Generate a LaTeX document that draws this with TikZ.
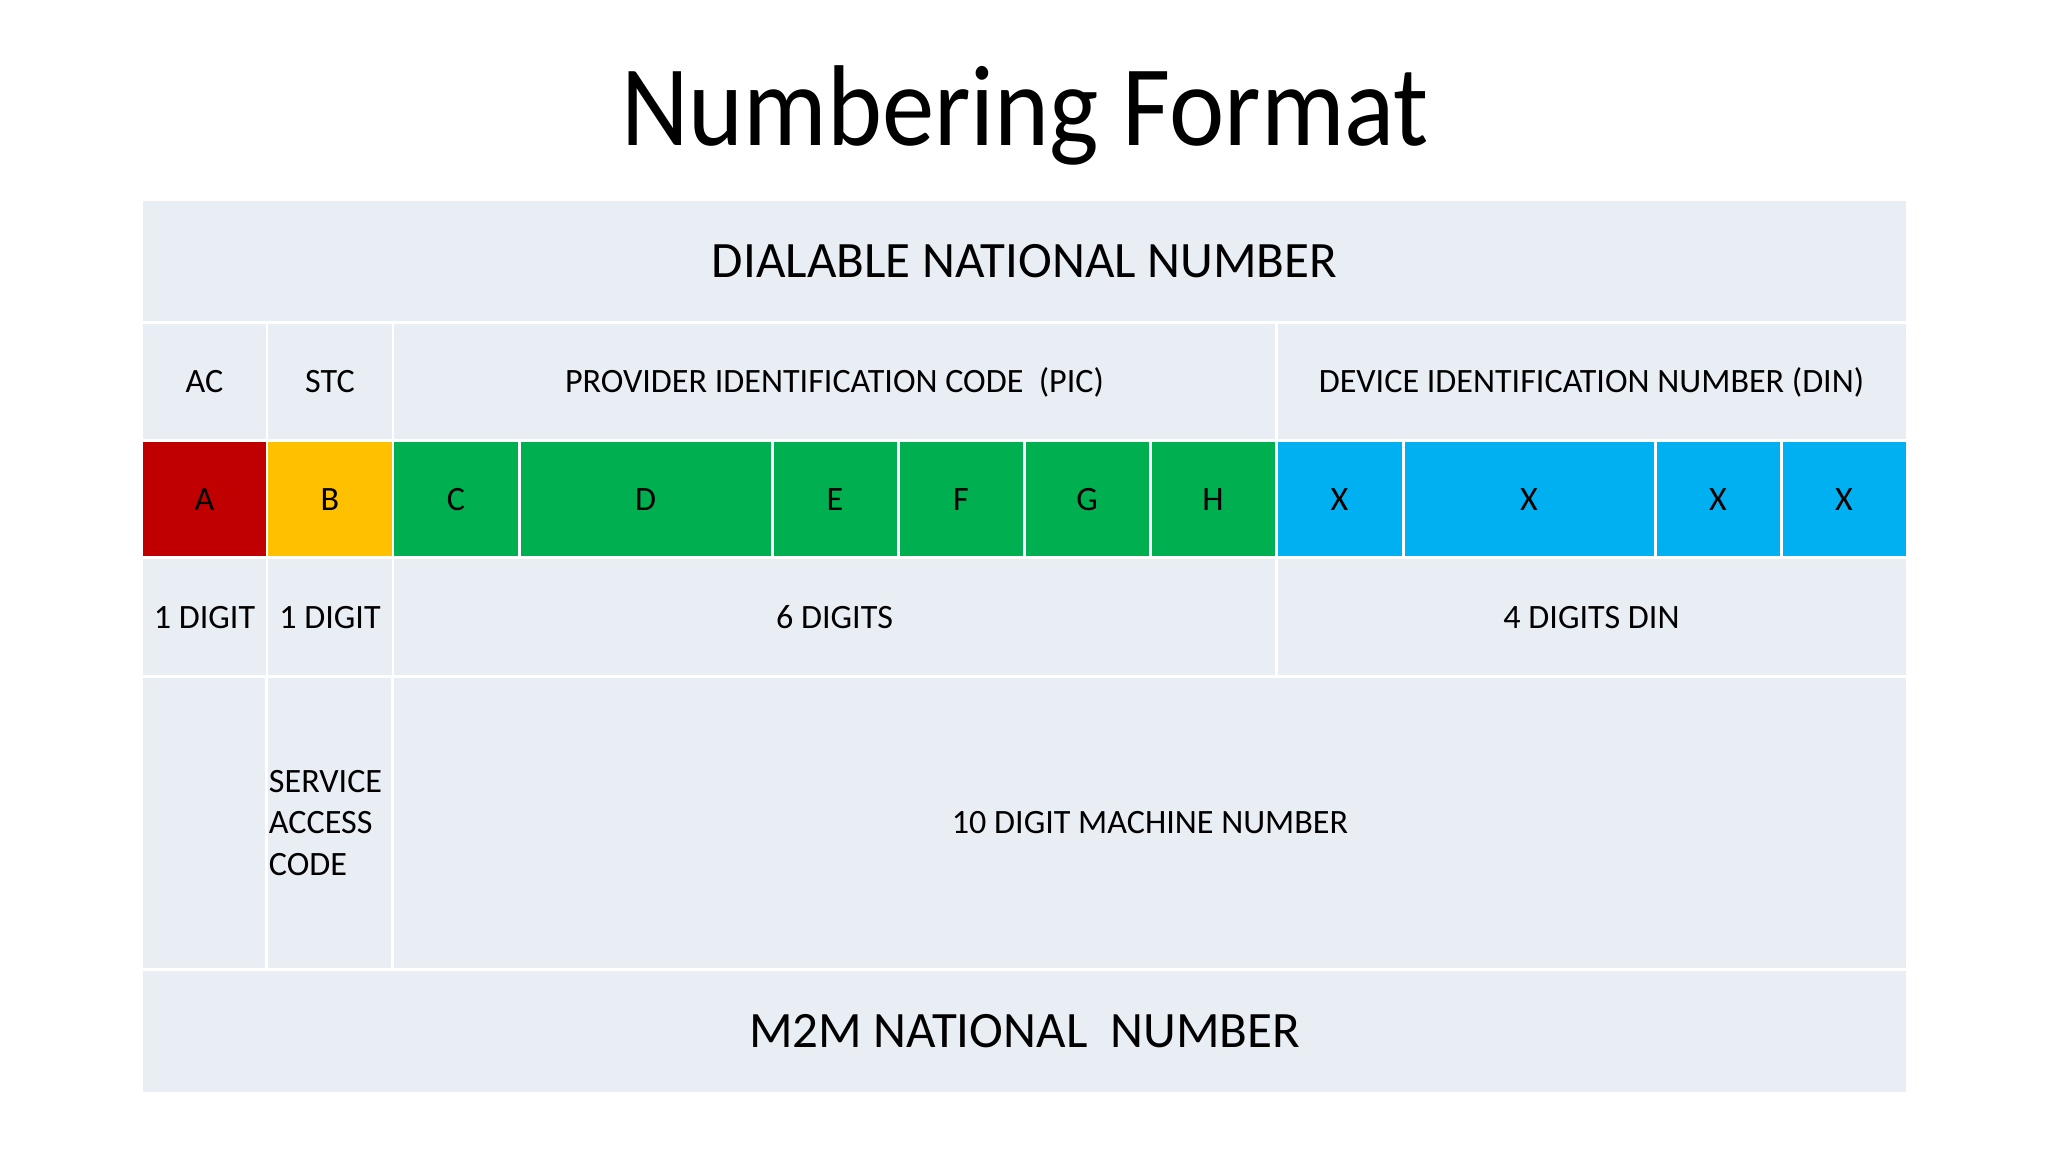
\documentclass[tikz,border=0pt]{standalone}
\usepackage{fontspec}
\setmainfont{Carlito}
\newfontfamily\titlefont[FakeStretch=0.91]{Carlito}
\usepackage{xcolor}

\definecolor{tblbg}{HTML}{E9EDF4}
\definecolor{acred}{HTML}{C00000}
\definecolor{stcyellow}{HTML}{FFC000}
\definecolor{picgreen}{HTML}{00B050}
\definecolor{dinblue}{HTML}{00B0F0}

\tikzset{
  cell/.style={draw=white, line width=0.85pt, fill=tblbg, inner sep=0pt,
    text=black, font=\fontsize{9.7}{11.7}\selectfont},
  bigcell/.style={cell, font=\fontsize{14.5}{17}\selectfont},
}

\begin{document}
\begin{tikzpicture}[x=0.01cm, y=-0.01cm]

    \useasboundingbox[fill=white] (0,0) rectangle (2048,1152);

    % Title
    \node[anchor=base, inner sep=0pt, font=\titlefont\fontsize{32.7}{38}\selectfont] (title) at (1025,146) {Numbering Format};

    % top and bottom rows
    \node[bigcell, minimum width=17.65cm, minimum height=1.23cm] (dialable) at (1024.5,261.5) {DIALABLE NATIONAL NUMBER};
    \node[bigcell, minimum width=17.65cm, minimum height=1.24cm] (m2m) at (1024.5,1031) {M2M NATIONAL\ \ NUMBER};

    % header row
    \foreach \nm/\xa/\xb/\lbl in {ac/142/267/AC, stc/267/393/STC, pic/393/1276/{PROVIDER IDENTIFICATION CODE\ \ (PIC)}, din/1276/1907/{DEVICE IDENTIFICATION NUMBER (DIN)}} {
        \node[cell, minimum width={(\xb-\xa)*0.01cm}, minimum height=1.18cm] (\nm) at ({(\xa+\xb)/2},382) {\lbl};
    }

    % coloured digits
    \foreach \nm/\xa/\xb/\col/\lbl in {pa/142/267/acred/A, pb/267/393/stcyellow/B, pc/393/519/picgreen/C, pd/519/772/picgreen/D, pe/772/898/picgreen/E, pf/898/1024/picgreen/F, pg/1024/1150/picgreen/G, ph/1150/1276/picgreen/H, px1/1276/1403/dinblue/X, px2/1403/1655/dinblue/X, px3/1655/1781/dinblue/X, px4/1781/1907/dinblue/X} {
        \node[cell, fill=\col, minimum width={(\xb-\xa)*0.01cm}, minimum height=1.17cm] (\nm) at ({(\xa+\xb)/2},499.5) {\lbl};
    }

    % digit counts
    \foreach \nm/\xa/\xb/\lbl in {cnta/142/267/1 DIGIT, cntb/267/393/1 DIGIT, cntpic/393/1276/6 DIGITS, cntdin/1276/1907/4 DIGITS DIN} {
        \node[cell, minimum width={(\xb-\xa)*0.01cm}, minimum height=1.19cm] (\nm) at ({(\xa+\xb)/2},617.5) {\lbl};
    }

    % description row
    \node[cell, minimum width=1.25cm, minimum height=2.92cm] (blank) at (204.5,823) {};
    \node[cell, minimum width=1.26cm, minimum height=2.92cm, inner xsep=0.02cm, text width=1.22cm, align=left] (sac) at (330,823) {SERVICE\\ACCESS\\CODE};
    \node[cell, minimum width=15.14cm, minimum height=2.92cm] (machine) at (1150,823) {10 DIGIT MACHINE NUMBER};

\end{tikzpicture}
\end{document}
